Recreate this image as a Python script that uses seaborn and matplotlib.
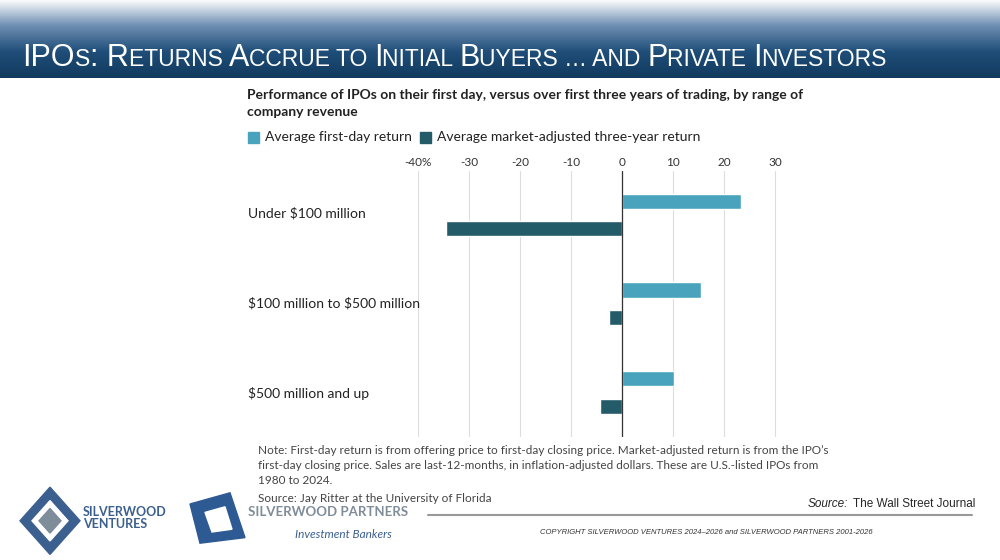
import numpy as np
import pandas as pd
import matplotlib
matplotlib.use("Agg")
import matplotlib.pyplot as plt
import seaborn as sns
from matplotlib.patches import Polygon

categories = ["Under \\$100 million", "\\$100 million to \\$500 million", "\\$500 million and up"]
first_day = [23.3, 15.5, 10.2]
three_year = [-34.5, -2.5, -4.4]
series = ["Average first-day return", "Average market-adjusted three-year return"]
colors = ["#4aa3bd", "#235c68"]
xticks = [-40, -30, -20, -10, 0, 10, 20, 30]
xticklabels = ["-40%", "-30", "-20", "-10", "0", "10", "20", "30"]

df = pd.DataFrame({
    "cat": categories * 2,
    "series": [series[0]] * 3 + [series[1]] * 3,
    "value": first_day + three_year,
})

sns.set_style("white")
plt.rcParams["font.family"] = ["Lato", "DejaVu Sans"]

fig = plt.figure(figsize=(10, 5.6), dpi=100)

# title banner with gradient
bg = fig.add_axes([0, 0.86, 1, 0.14])
grad = np.linspace(0, 1, 100).reshape(-1, 1)
cmap = matplotlib.colors.LinearSegmentedColormap.from_list("b", ["#ffffff", "#6f8fb3", "#1f4e79", "#123a5e"])
bg.imshow(grad, aspect="auto", cmap=cmap, extent=[0, 1, 0, 1], origin="upper")
bg.axis("off")

pieces = [("IPO", 22), ("S", 16.5), (": R", 22), ("ETURNS ", 16.5), ("A", 22), ("CCRUE TO ", 16.5),
          ("I", 22), ("NITIAL ", 16.5), ("B", 22), ("UYERS … AND ", 16.5), ("P", 22), ("RIVATE ", 16.5),
          ("I", 22), ("NVESTORS", 16.5)]
renderer = fig.canvas.get_renderer()
x = 0.022
for txt, sz in pieces:
    t = fig.text(x, 0.883, txt, color="white", fontsize=sz, family="Liberation Sans", va="baseline")
    x += t.get_window_extent(renderer).width / 1000

ax = fig.add_axes([0.418, 0.22, 0.362, 0.475])
sns.barplot(data=df, x="value", y="cat", hue="series", palette=colors, orient="h",
            width=0.62, gap=0.45, ax=ax, legend=False, saturation=1)
ax.set_xlim(-40, 31)
ax.set_ylim(2.5, -0.5)
ax.set_xticks(xticks)
ax.set_xticklabels(xticklabels, fontsize=8.5, color="#333333")
ax.xaxis.tick_top()
ax.tick_params(axis="x", length=0, pad=2)
ax.grid(axis="x", color="#dddddd", lw=0.8)
ax.set_axisbelow(True)
ax.axvline(0, color="#333333", lw=0.9)
ax.set_yticks([])
ax.set_xlabel("")
ax.set_ylabel("")
for s in ax.spines.values():
    s.set_visible(False)

for i, c in enumerate(categories):
    y = 1 - (213 + 90 * i) / 560
    fig.text(0.248, y, c, fontsize=10, color="#222222", va="center")

fig.text(0.247, 0.815, "Performance of IPOs on their first day, versus over first three years of trading, by range of\ncompany revenue",
         fontsize=10, fontweight="bold", color="#222222", va="center", linespacing=1.5)
lx = 0.248
for s, c in zip(series, colors):
    fig.patches.append(plt.Rectangle((lx, 0.745), 0.011, 0.02, color=c, transform=fig.transFigure))
    t = fig.text(lx + 0.017, 0.755, s, fontsize=10, color="#222222", va="center")
    lx += 0.017 + t.get_window_extent(renderer).width / 1000 + 0.008

fig.text(0.258, 0.205, "Note: First-day return is from offering price to first-day closing price. Market-adjusted return is from the IPO’s\n"
         "first-day closing price. Sales are last-12-months, in inflation-adjusted dollars. These are U.S.-listed IPOs from\n1980 to 2024.",
         fontsize=8.5, color="#444444", va="top", linespacing=1.45)
fig.text(0.258, 0.11, "Source: Jay Ritter at the University of Florida", fontsize=8.5, color="#444444", va="center")
fig.text(0.808, 0.1, "Source:", fontsize=8.5, style="italic", va="center", family="Liberation Sans")
fig.text(0.853, 0.1, "The Wall Street Journal", fontsize=8.5, va="center", family="Liberation Sans")
fig.add_artist(plt.Line2D([0.428, 0.972], [0.08, 0.08], color="#999999", lw=1.5))
fig.text(0.54, 0.05, "COPYRIGHT SILVERWOOD VENTURES 2024–2026 and SILVERWOOD PARTNERS 2001-2026",
         fontsize=5.5, style="italic", color="#333333", va="center", family="Liberation Sans")

# logos
def diamond(cx, cy, w, h, color):
    fig.patches.append(Polygon([(cx, cy + h), (cx + w, cy), (cx, cy - h), (cx - w, cy)],
                               closed=True, color=color, transform=fig.transFigure))
diamond(0.05, 0.07, 0.03, 0.06, "#3b5f8f")
diamond(0.05, 0.07, 0.018, 0.036, "white")
diamond(0.05, 0.07, 0.011, 0.022, "#7f8c99")
fig.text(0.083, 0.075, "SILVERWOOD\nVENTURES", fontsize=9, color="#3b5f8f", fontweight="bold", va="center", linespacing=1.1)
fig.patches.append(Polygon([(0.19, 0.1), (0.23, 0.12), (0.245, 0.04), (0.2, 0.03)], closed=True,
                           color="#2e5a94", transform=fig.transFigure))
fig.patches.append(Polygon([(0.205, 0.085), (0.225, 0.095), (0.232, 0.055), (0.212, 0.05)], closed=True,
                           color="white", transform=fig.transFigure))
fig.text(0.248, 0.085, "SILVERWOOD PARTNERS", fontsize=9.5, color="#7f8c99", fontweight="bold", va="center")
fig.text(0.295, 0.045, "Investment Bankers", fontsize=8.5, style="italic", color="#3b5f8f", va="center")

fig.savefig("out.png", dpi=100)
